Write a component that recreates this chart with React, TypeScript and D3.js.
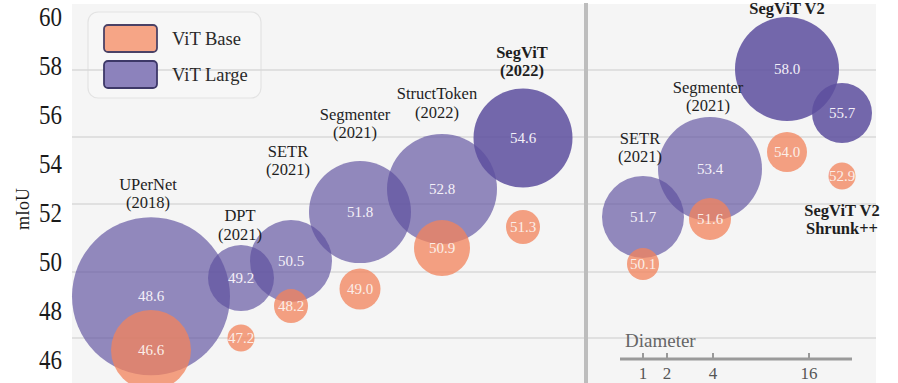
import React from "react";
import * as d3 from "d3";

// ---- data ----
const labelLines: string[][] = [
  ["UPerNet", "(2018)"],
  ["DPT", "(2021)"],
  ["SETR", "(2021)"],
  ["Segmenter", "(2021)"],
  ["StructToken", "(2022)"],
  ["SegViT", "(2022)"],
  ["SETR", "(2021)"],
  ["Segmenter", "(2021)"],
  ["SegViT V2"],
  ["SegViT V2", "Shrunk++"],
];
const boldLabel = [false, false, false, false, false, true, false, false, true, true];
const oursModel = [false, false, false, false, false, true, false, false, true, true];
const xPos = [7.9, 16.9, 21.9, 28.8, 37.0, 45.1, 57.1, 63.8, 71.5, 77.0];
const labelX = [7.6, 16.8, 21.6, 28.3, 36.5, 45.0, 56.8, 63.6, 71.5, 77.0];
const labelY = [52.41, 51.14, 53.76, 55.27, 56.12, 57.8, 54.29, 56.37, 60.33, 51.35];

const largeMIoU = [48.6, 49.2, 50.5, 51.8, 52.8, 54.6, 51.7, 53.4, 58.0, 55.7];
const largeY = [48.6, 49.35, 50.04, 52.04, 52.98, 55.06, 51.84, 53.8, 57.88, 56.08];
const largeSize = [7.9, 3.3, 4.1, 5.1, 5.5, 4.95, 4.1, 5.2, 5.2, 3.0];

const baseMIoU = [46.6, 47.2, 48.2, 49.0, 50.9, 51.3, 50.1, 51.6, 54.0, 52.9];
const baseY = [46.41, 46.9, 48.2, 48.9, 50.57, 51.43, 49.92, 51.76, 54.49, 53.51];
const baseSize = [4.0, 1.35, 1.7, 2.05, 2.8, 1.7, 1.6, 2.1, 2.0, 1.35];

const yTicks = [46, 48, 50, 52, 54, 56, 58, 60];
const gridValues = [57.84, 55.1, 52.37, 49.59, 46.9];
const dividerX = 51.4;
const yTitleAt = 52.16;

const legendItems = ["ViT Base", "ViT Large"];
const diameterTicks = [1, 2, 4, 16];
const diameterPos = [57.1, 59.5, 64.1, 73.7];
const diameterLine = [54.8, 78.0];

const W = 898;
const H = 383;
const FONT = "'Liberation Serif', 'Times New Roman', serif";

export default function App() {
  const x = d3.scaleLinear().domain([0, 80.4]).range([72, 876]);
  const y = d3.scaleLinear().domain([46, 60]).range([360, 17]);
  const r = d3.scaleLinear().domain([0, 1]).range([0, 10]);

  const purple = "#5d4f9e";
  const orange = "#f2845c";

  const idx = d3.range(largeMIoU.length);

  return (
    <svg
      width={W}
      height={H}
      style={{ position: "absolute", left: 0, top: 0, background: "#ffffff" }}
      fontFamily={FONT}
    >
      {/* plot background */}
      <rect x={x(0)} y={4} width={x(80.4) - x(0)} height={H - 4} fill="#f5f5f5" />

      {/* legend box */}
      <rect x={88} y={12} width={173} height={86} rx={10} fill="#f7f7f7" stroke="#e3e3e3" strokeWidth={1.2} />

      {/* gridlines */}
      {gridValues.map((g, i) => (
        <line key={i} x1={x(0)} x2={x(80.4)} y1={y(g)} y2={y(g)} stroke="#d9d9d9" strokeWidth={1.5} />
      ))}

      {/* divider */}
      <line x1={x(dividerX)} x2={x(dividerX)} y1={3} y2={H} stroke="#bdbdbd" strokeWidth={4} />

      {/* large bubbles */}
      {idx.map((i) => (
        <circle
          key={"L" + i}
          cx={x(xPos[i])}
          cy={y(largeY[i])}
          r={r(largeSize[i])}
          fill={purple}
          fillOpacity={oursModel[i] ? 0.86 : 0.66}
        />
      ))}
      {/* base bubbles */}
      {idx.map((i) => (
        <circle
          key={"B" + i}
          cx={x(xPos[i])}
          cy={y(baseY[i])}
          r={r(baseSize[i])}
          fill={orange}
          fillOpacity={0.76}
        />
      ))}

      {/* bubble values */}
      {idx.map((i) => (
        <text
          key={"LT" + i}
          x={x(xPos[i])}
          y={y(largeY[i])}
          textAnchor="middle"
          dominantBaseline="central"
          fontSize={15}
          fill="#f4f0f8"
        >
          {largeMIoU[i].toFixed(1)}
        </text>
      ))}
      {idx.map((i) => (
        <text
          key={"BT" + i}
          x={x(xPos[i])}
          y={y(baseY[i])}
          textAnchor="middle"
          dominantBaseline="central"
          fontSize={15}
          fill="#fbeee8"
        >
          {baseMIoU[i].toFixed(1)}
        </text>
      ))}

      {/* model labels */}
      {idx.map((i) => {
        const lines = labelLines[i];
        const lastY = y(labelY[i]);
        return (
          <text
            key={"ML" + i}
            textAnchor="middle"
            fontSize={16.5}
            fontWeight={boldLabel[i] ? "bold" : "normal"}
            fill="#1e1e1e"
          >
            {lines.map((ln, j) => (
              <tspan
                key={j}
                x={x(labelX[i])}
                y={lastY - (lines.length - 1 - j) * 18.5}
                dominantBaseline="central"
              >
                {ln}
              </tspan>
            ))}
          </text>
        );
      })}

      {/* y axis tick labels */}
      {yTicks.map((t) => (
        <text
          key={t}
          transform={`translate(62, ${y(t)}) scale(1, 1.18)`}
          textAnchor="end"
          dominantBaseline="central"
          fontSize={23}
          fill="#1a1a1a"
        >
          {t}
        </text>
      ))}
      <text
        transform={`translate(23, ${y(yTitleAt)}) rotate(-90)`}
        textAnchor="middle"
        dominantBaseline="central"
        fontSize={18}
        fill="#1a1a1a"
      >
        mIoU
      </text>

      {/* legend entries */}
      {legendItems.map((name, i) => (
        <g key={name}>
          <rect
            x={104}
            y={25 + i * 36}
            width={53}
            height={27}
            rx={4}
            fill={i === 0 ? "#f6a586" : "#8c82bc"}
            stroke={i === 0 ? "#4b4266" : "#3d3868"}
            strokeWidth={1.8}
          />
          <text x={172} y={39 + i * 36} dominantBaseline="central" fontSize={18.5} fill="#2a2a2a">
            {name}
          </text>
        </g>
      ))}

      {/* diameter legend */}
      <text x={x(diameterLine[0]) + 5} y={340} dominantBaseline="central" fontSize={19} fill="#666">
        Diameter
      </text>
      <line
        x1={x(diameterLine[0])}
        x2={x(diameterLine[1])}
        y1={359}
        y2={359}
        stroke="#9a9a9a"
        strokeWidth={3}
      />
      {diameterTicks.map((d, i) => (
        <g key={d}>
          <line x1={x(diameterPos[i])} x2={x(diameterPos[i])} y1={353} y2={359} stroke="#9a9a9a" strokeWidth={2} />
          <text x={x(diameterPos[i])} y={373} textAnchor="middle" dominantBaseline="central" fontSize={17} fill="#555">
            {d}
          </text>
        </g>
      ))}
    </svg>
  );
}
